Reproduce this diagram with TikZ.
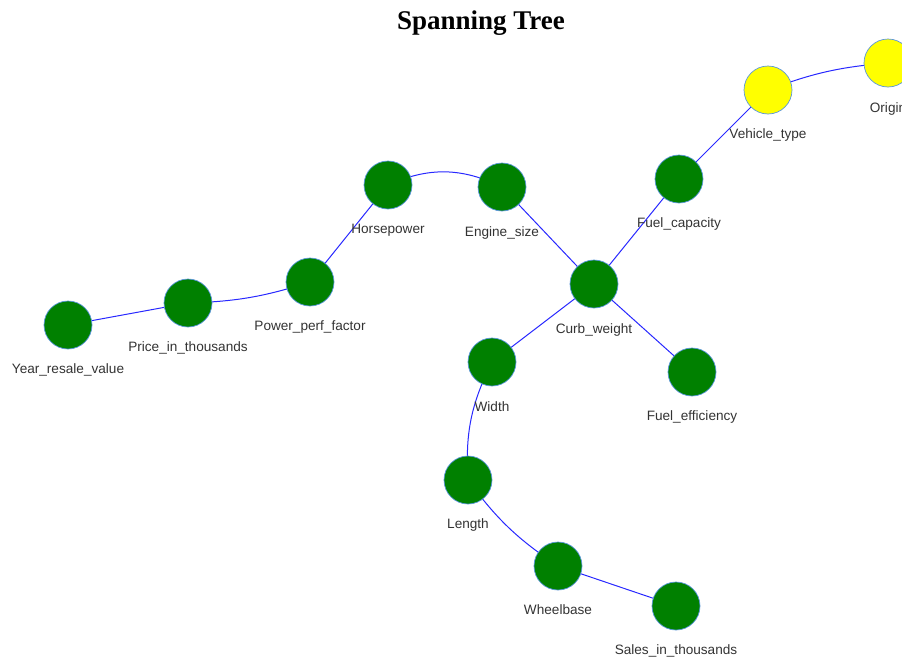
\documentclass[tikz,border=0pt]{standalone}
\usepackage{fontspec}
\setmainfont{Liberation Sans}
\newfontfamily\titlefont{Liberation Serif}
\begin{document}
\begin{tikzpicture}[x=1pt,y=-1pt,
  vnode/.style={circle,draw={rgb,255:red,90;green,150;blue,220},line width=0.7pt,minimum size=48pt,inner sep=0pt},
  green vertex/.style={vnode,fill={rgb,255:red,0;green,128;blue,0}},
  yellow vertex/.style={vnode,fill={rgb,255:red,255;green,255;blue,0}},
  vlabel/.style={font=\fontsize{13.6}{15}\selectfont,text={rgb,255:red,51;green,51;blue,51},inner sep=0pt},
  link/.style={draw={rgb,255:red,40;green,40;blue,255},line width=1pt}]
\useasboundingbox (0,0) rectangle (902,659);
\clip (0,0) rectangle (902,659);
\node[font=\titlefont\bfseries\fontsize{27}{30}\selectfont] (title) at (481,23) {Spanning Tree};

% vertex positions
\coordinate (pOrigin) at (888,63);
\coordinate (pVeh) at (768,90);
\coordinate (pFuelc) at (679,179);
\coordinate (pHp) at (388,185);
\coordinate (pEng) at (502,187);
\coordinate (pCurb) at (594,284);
\coordinate (pPpf) at (310,282);
\coordinate (pPrice) at (188,303);
\coordinate (pYear) at (68,325);
\coordinate (pWidth) at (492,362);
\coordinate (pFuele) at (692,372);
\coordinate (pLength) at (468,480);
\coordinate (pWheel) at (558,566);
\coordinate (pSales) at (676,606);

% tree edges, drawn beneath the vertices
\draw[link] (pVeh) to[bend left=8] (pOrigin);
\draw[link] (pVeh) to (pFuelc);
\draw[link] (pFuelc) to (pCurb);
\draw[link] (pEng) to (pCurb);
\draw[link] (pHp) to[bend left=25] (pEng);
\draw[link] (pHp) to (pPpf);
\draw[link] (pPrice) to[bend right=8] (pPpf);
\draw[link] (pYear) to (pPrice);
\draw[link] (pCurb) to (pWidth);
\draw[link] (pCurb) to (pFuele);
\draw[link] (pWidth) to[bend right=15] (pLength);
\draw[link] (pLength) to[bend right=10] (pWheel);
\draw[link] (pWheel) to (pSales);

\node[yellow vertex] (origin) at (pOrigin) {};
\node[yellow vertex] (veh) at (pVeh) {};
\node[green vertex] (fuelc) at (pFuelc) {};
\node[green vertex] (hp) at (pHp) {};
\node[green vertex] (eng) at (pEng) {};
\node[green vertex] (curb) at (pCurb) {};
\node[green vertex] (ppf) at (pPpf) {};
\node[green vertex] (price) at (pPrice) {};
\node[green vertex] (year) at (pYear) {};
\node[green vertex] (width) at (pWidth) {};
\node[green vertex] (fuele) at (pFuele) {};
\node[green vertex] (length) at (pLength) {};
\node[green vertex] (wheel) at (pWheel) {};
\node[green vertex] (sales) at (pSales) {};

\node[vlabel] (lOrigin) at (888,109) {Origin};
\node[vlabel] (lVeh) at (768,135) {Vehicle\_type};
\node[vlabel] (lFuelc) at (679,224) {Fuel\_capacity};
\node[vlabel] (lHp) at (388,230) {Horsepower};
\node[vlabel] (lEng) at (502,233) {Engine\_size};
\node[vlabel] (lCurb) at (594,330) {Curb\_weight};
\node[vlabel] (lPpf) at (310,327) {Power\_perf\_factor};
\node[vlabel] (lPrice) at (188,348) {Price\_in\_thousands};
\node[vlabel] (lYear) at (68,370) {Year\_resale\_value};
\node[vlabel] (lWidth) at (492,407) {Width};
\node[vlabel] (lFuele) at (692,417) {Fuel\_efficiency};
\node[vlabel] (lLength) at (468,525) {Length};
\node[vlabel] (lWheel) at (558,610) {Wheelbase};
\node[vlabel] (lSales) at (676,651) {Sales\_in\_thousands};
\end{tikzpicture}
\end{document}
